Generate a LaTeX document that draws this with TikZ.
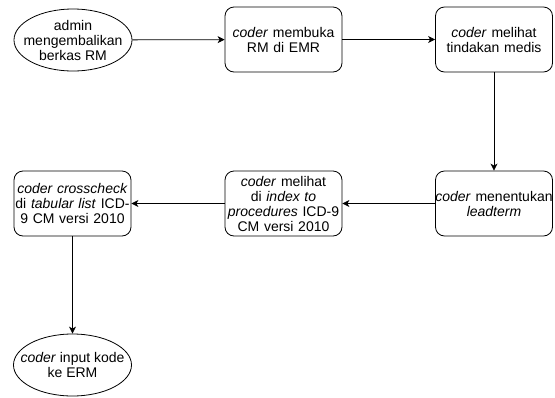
\documentclass[tikz,border=0pt]{standalone}
\usepackage{fontspec}
\setmainfont{Liberation Sans}
\usetikzlibrary{arrows.meta}
\usetikzlibrary{shapes}
\tikzset{
	every path/.style={line width=0.8pt},
	align=center,
	proc/.style={
		draw,
		rectangle,
		rounded corners=9pt,
		text width=134pt,
		minimum height=65pt,
		inner xsep=-8.5pt,
		font=\fontsize{14}{15}\selectfont,
	},
	term/.style={
		draw,
		ellipse,
		minimum width=118pt,
		minimum height=62pt,
		inner xsep=-16pt,
		inner ysep=-6pt,
		font=\fontsize{14}{15}\selectfont,
	},
	flow/.style={
		-{Stealth[length=7pt,width=7pt,inset=2pt]}
	},
}

\begin{document}
\begin{tikzpicture}[x=1pt,y=-1pt]
		\useasboundingbox (0,0) rectangle (555,397);

		\node[term]			(admin) at (73,40) {admin\\mengembalikan\\berkas RM};
		\node[proc]			(buka) at (283.5,39.5) {\textit{coder} membuka\\RM di EMR};
		\node[proc]			(lihat) at (494,39.5) {\textit{coder} melihat\\tindakan medis};

		\draw[flow] 			(admin) -- (buka);
		\draw[flow] 			(buka) -- (lihat);

%*********

		\node[proc]			(lead) at (494,203.5) {\textit{coder} menentukan\\\textit{leadterm}};
		\node[proc]			(index) at (283.5,203.5) {\textit{coder} melihat\\di \textit{index to}\\\textit{procedures} ICD-9\\CM versi 2010};
		\node[proc]			(cross) at (72.5,203.5) {\textit{coder crosscheck}\\di \textit{tabular list} ICD-\\9 CM versi 2010};

		\draw[flow] 			(lihat) -- (lead);
		\draw[flow] 			(lead) -- (index);
		\draw[flow] 			(index) -- (cross);

%*********

		\node[term]			(input) at (72.5,365) {\textit{coder} input kode\\ke ERM};

		\draw[flow] 			(cross) -- (input);

	\end{tikzpicture}
\end{document}
